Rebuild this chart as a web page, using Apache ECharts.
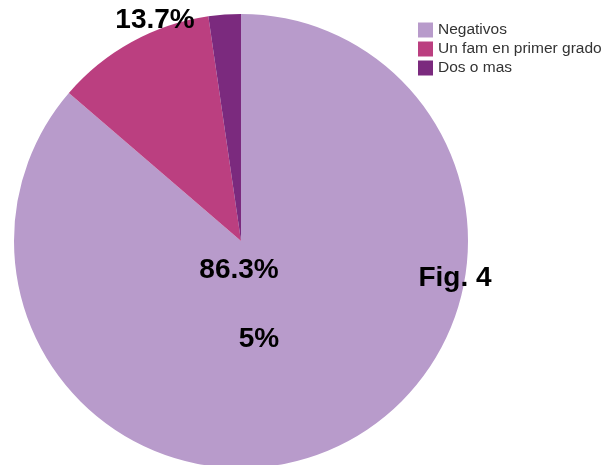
<!DOCTYPE html>
<html>
<head>
<meta charset="utf-8">
<script src="https://cdn.jsdelivr.net/npm/echarts@6/dist/echarts.min.js"></script>
<style>
  html, body { margin: 0; padding: 0; background: #fff; }
  #chart { width: 610px; height: 465px; }
</style>
</head>
<body>
<div id="chart"></div>
<script>
// Pie slices
const categories = ['Negativos', 'Un fam en primer grado', 'Dos o mas'];
const values = [86.3, 11.4, 2.3];
const colors = ['#b89bcb', '#bb3f80', '#7b2a7e'];

// Free-standing annotations written over the pie
const noteTexts = ['13.7%', '86.3%', '5%', 'Fig. 4'];

const chart = echarts.init(document.getElementById('chart'), null, { renderer: 'canvas' });

const noteFont = { fontFamily: 'Liberation Sans, Arial, sans-serif', fontSize: 28, fontWeight: 'bold', fill: '#000' };
const notePos = [[155, 20], [239, 270], [259, 339], [455, 278]];

chart.setOption({
  animation: false,
  color: colors,
  legend: {
    orient: 'vertical',
    left: 418,
    top: 22,
    padding: 0,
    itemWidth: 15,
    itemHeight: 15,
    itemGap: 3,
    icon: 'rect',
    textStyle: { fontFamily: 'Liberation Sans, Arial, sans-serif', fontSize: 15.5, lineHeight: 15, color: '#333' },
    data: categories
  },
  series: [{
    type: 'pie',
    center: [241, 241],
    radius: 227,
    startAngle: 90,
    clockwise: true,
    label: { show: false },
    labelLine: { show: false },
    itemStyle: { borderWidth: 0 },
    emphasis: { disabled: true },
    data: categories.map((name, i) => ({ name, value: values[i] }))
  }],
  graphic: noteTexts.map((t, i) => ({
    type: 'text',
    z: 100,
    x: notePos[i][0],
    y: notePos[i][1],
    style: Object.assign({ text: t, textAlign: 'center', textVerticalAlign: 'middle' }, noteFont)
  }))
});
</script>
</body>
</html>
